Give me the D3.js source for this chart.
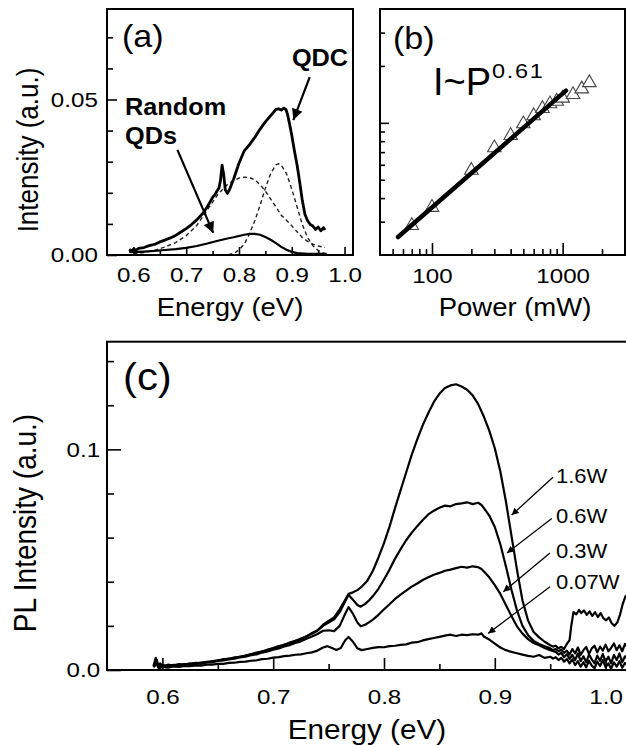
<!DOCTYPE html>
<html>
<head>
<meta charset="utf-8">
<script src="https://cdn.jsdelivr.net/npm/d3@7"></script>
<style>
  body { margin: 0; background: #fff; }
  svg { display: block; font-family: "Liberation Sans", Arial, sans-serif; }
</style>
</head>
<body>
<div id="chart"></div>
<script>
// ---- panel (a): spectrum and its two-peak fit ----
const aTotal = [[0.592,0.0018],[0.597,0.0012],[0.60,0.0019],[0.605,0.0016],[0.61,0.0021],[0.62,0.0024],[0.63,0.0030],[0.64,0.0034],[0.65,0.0042],[0.66,0.0048],[0.67,0.0055],[0.68,0.0063],[0.69,0.0074],[0.70,0.0085],[0.71,0.0098],[0.72,0.0113],[0.73,0.0131],[0.735,0.0142],[0.74,0.0155],[0.745,0.0170],[0.75,0.0185],[0.755,0.0195],[0.758,0.0205],[0.762,0.0215],[0.765,0.0240],[0.768,0.0289],[0.771,0.0260],[0.774,0.0210],[0.778,0.0198],[0.782,0.0210],[0.79,0.0245],[0.80,0.0295],[0.81,0.0335],[0.82,0.0355],[0.83,0.0378],[0.84,0.0405],[0.85,0.0428],[0.86,0.0448],[0.865,0.0458],[0.87,0.0468],[0.875,0.0470],[0.88,0.0466],[0.885,0.0472],[0.889,0.0468],[0.892,0.0452],[0.896,0.0420],[0.90,0.0385],[0.905,0.0335],[0.91,0.0290],[0.915,0.0235],[0.92,0.0175],[0.925,0.0130],[0.93,0.0110],[0.935,0.0098],[0.94,0.0093],[0.945,0.0082],[0.95,0.0090],[0.955,0.0078],[0.96,0.0088],[0.963,0.0080]];
const aRandom = [[0.592,0.0010],[0.60,0.0009],[0.62,0.0011],[0.64,0.0013],[0.66,0.0016],[0.68,0.0019],[0.70,0.0023],[0.72,0.0029],[0.74,0.0037],[0.76,0.0046],[0.78,0.0054],[0.79,0.0057],[0.80,0.0061],[0.81,0.0065],[0.82,0.0068],[0.83,0.0068],[0.84,0.0065],[0.85,0.0058],[0.86,0.0049],[0.87,0.0038],[0.88,0.0026],[0.89,0.0017],[0.90,0.0010],[0.91,0.0006],[0.93,0.0004],[0.966,0.0004]];
const aFitBroad = [[0.60,0.0003],[0.62,0.0008],[0.64,0.0015],[0.66,0.0026],[0.68,0.0040],[0.70,0.0062],[0.72,0.0095],[0.74,0.0145],[0.76,0.0195],[0.78,0.0230],[0.80,0.0247],[0.81,0.0250],[0.82,0.0249],[0.83,0.0242],[0.84,0.0226],[0.85,0.0206],[0.86,0.0180],[0.87,0.0155],[0.88,0.0128],[0.89,0.0112],[0.90,0.0094],[0.91,0.0075],[0.92,0.0056],[0.93,0.0044],[0.94,0.0035],[0.95,0.0029],[0.963,0.0024]];
const aFitNarrow = [[0.78,0.0001],[0.79,0.0005],[0.80,0.0016],[0.81,0.0035],[0.82,0.0068],[0.83,0.0110],[0.84,0.0160],[0.85,0.0215],[0.86,0.0262],[0.87,0.0290],[0.875,0.0293],[0.88,0.0289],[0.89,0.0262],[0.90,0.0212],[0.91,0.0155],[0.92,0.0098],[0.93,0.0056],[0.94,0.0030],[0.95,0.0015],[0.96,0.0006],[0.97,0.0002]];
const aTicksX = [0.6, 0.7, 0.8, 0.9, 1.0], aMinorX = [0.65, 0.75, 0.85, 0.95];
const aTicksY = [0, 0.05], aMinorY = [0.01, 0.02, 0.03, 0.04, 0.06, 0.07];

// ---- panel (b): integrated intensity vs power ----
const bPower = [70, 100, 200, 300, 400, 500, 600, 700, 800, 900, 1000, 1200, 1400, 1600];
const bIntensity = [2.86, 3.57, 5.61, 7.37, 8.57, 9.88, 10.9, 11.9, 12.6, 13.0, 13.5, 14.1, 15.1, 16.3];
const bFitPower = [55, 1060], bFitIntensity = [2.49, 14.8];
const bTicksX = [100, 1000], bMinorX = [50, 60, 70, 80, 90, 200, 300, 400, 500, 600, 700, 800, 900, 2000];
const bTicksY = [10], bMinorY = [3, 4, 5, 6, 7, 8, 9, 20, 30];

// ---- panel (c): spectra at four pump powers ----
const c16 = [[0.592,0.0020],[0.594,0.0055],[0.596,0.0012],[0.598,0.0030],[0.60,0.0018],[0.605,0.0024],[0.61,0.0020],[0.615,0.0027],[0.62,0.0025],[0.625,0.0030],[0.63,0.0029],[0.635,0.0034],[0.64,0.0036],[0.645,0.0040],[0.65,0.0043],[0.655,0.0049],[0.66,0.0050],[0.665,0.0057],[0.67,0.0059],[0.675,0.0066],[0.68,0.0070],[0.685,0.0079],[0.69,0.0083],[0.695,0.0093],[0.70,0.0100],[0.705,0.0108],[0.71,0.0113],[0.715,0.0125],[0.72,0.0131],[0.725,0.0143],[0.73,0.0152],[0.735,0.0168],[0.74,0.0180],[0.745,0.0205],[0.75,0.0222],[0.755,0.0238],[0.76,0.0275],[0.765,0.0318],[0.768,0.0345],[0.772,0.0352],[0.776,0.0362],[0.78,0.0378],[0.785,0.0405],[0.79,0.0450],[0.795,0.0510],[0.80,0.0575],[0.805,0.0650],[0.81,0.0735],[0.815,0.0815],[0.82,0.0895],[0.825,0.0975],[0.83,0.1045],[0.835,0.1110],[0.84,0.1165],[0.845,0.1215],[0.85,0.1252],[0.855,0.1278],[0.86,0.1290],[0.865,0.1295],[0.87,0.1285],[0.875,0.1270],[0.88,0.1245],[0.885,0.1205],[0.89,0.1150],[0.895,0.1085],[0.90,0.1005],[0.905,0.0900],[0.91,0.0765],[0.915,0.0610],[0.92,0.0455],[0.925,0.0315],[0.93,0.0225],[0.935,0.0172],[0.94,0.0148],[0.945,0.0128],[0.95,0.0112],[0.9525,0.0106],[0.955,0.0110],[0.9575,0.0098],[0.96,0.0105],[0.9625,0.0095],[0.965,0.0118],[0.9675,0.0135],[0.969,0.0200],[0.971,0.0262],[0.9735,0.0252],[0.976,0.0272],[0.978,0.0258],[0.9805,0.0270],[0.983,0.0250],[0.9855,0.0266],[0.988,0.0245],[0.9905,0.0262],[0.993,0.0240],[0.9955,0.0258],[0.998,0.0235],[1.0005,0.0225],[1.003,0.0238],[1.0055,0.0212],[1.008,0.0200],[1.0105,0.0215],[1.013,0.0250],[1.0155,0.0300],[1.018,0.0335],[1.02,0.0325]];
const c06 = [[0.592,0.0018],[0.595,0.0045],[0.597,0.0010],[0.60,0.0022],[0.605,0.0017],[0.61,0.0023],[0.615,0.0022],[0.62,0.0027],[0.625,0.0026],[0.63,0.0032],[0.635,0.0031],[0.64,0.0037],[0.645,0.0038],[0.65,0.0044],[0.655,0.0046],[0.66,0.0052],[0.665,0.0054],[0.67,0.0061],[0.675,0.0064],[0.68,0.0072],[0.685,0.0076],[0.69,0.0085],[0.695,0.0089],[0.70,0.0098],[0.705,0.0104],[0.71,0.0115],[0.715,0.0121],[0.72,0.0132],[0.725,0.0139],[0.73,0.0153],[0.735,0.0164],[0.74,0.0178],[0.745,0.0200],[0.75,0.0215],[0.755,0.0230],[0.76,0.0262],[0.765,0.0312],[0.768,0.0340],[0.772,0.0318],[0.776,0.0295],[0.779,0.0287],[0.783,0.0300],[0.787,0.0318],[0.79,0.0335],[0.795,0.0368],[0.80,0.0410],[0.805,0.0455],[0.81,0.0505],[0.815,0.0548],[0.82,0.0588],[0.825,0.0622],[0.83,0.0652],[0.835,0.0680],[0.84,0.0705],[0.845,0.0722],[0.85,0.0735],[0.855,0.0745],[0.86,0.0742],[0.865,0.0752],[0.87,0.0755],[0.875,0.0760],[0.88,0.0752],[0.885,0.0758],[0.888,0.0748],[0.89,0.0735],[0.895,0.0700],[0.90,0.0648],[0.905,0.0570],[0.91,0.0470],[0.915,0.0365],[0.92,0.0270],[0.925,0.0200],[0.93,0.0158],[0.935,0.0132],[0.94,0.0118],[0.945,0.0108],[0.95,0.0098],[0.9525,0.0090],[0.955,0.0095],[0.9575,0.0085],[0.96,0.0092],[0.9625,0.0078],[0.965,0.0088],[0.9675,0.0070],[0.97,0.0095],[0.9725,0.0075],[0.975,0.0102],[0.9775,0.0068],[0.98,0.0090],[0.9825,0.0105],[0.985,0.0072],[0.9875,0.0098],[0.99,0.0110],[0.9925,0.0080],[0.995,0.0106],[0.9975,0.0088],[1.00,0.0115],[1.0025,0.0085],[1.005,0.0100],[1.0075,0.0120],[1.01,0.0090],[1.0125,0.0112],[1.015,0.0085],[1.0175,0.0118],[1.02,0.0100]];
const c03 = [[0.592,0.0015],[0.594,0.0040],[0.597,0.0012],[0.60,0.0019],[0.605,0.0015],[0.61,0.0021],[0.615,0.0019],[0.62,0.0025],[0.625,0.0024],[0.63,0.0029],[0.635,0.0029],[0.64,0.0034],[0.645,0.0035],[0.65,0.0041],[0.655,0.0043],[0.66,0.0048],[0.665,0.0051],[0.67,0.0057],[0.675,0.0060],[0.68,0.0067],[0.685,0.0071],[0.69,0.0079],[0.695,0.0084],[0.70,0.0092],[0.705,0.0098],[0.71,0.0107],[0.715,0.0113],[0.72,0.0123],[0.725,0.0130],[0.73,0.0142],[0.735,0.0152],[0.74,0.0163],[0.745,0.0178],[0.75,0.0180],[0.755,0.0176],[0.76,0.0200],[0.765,0.0255],[0.768,0.0285],[0.772,0.0255],[0.776,0.0215],[0.779,0.0198],[0.783,0.0205],[0.787,0.0218],[0.79,0.0228],[0.795,0.0250],[0.80,0.0275],[0.805,0.0298],[0.81,0.0322],[0.815,0.0342],[0.82,0.0360],[0.825,0.0378],[0.83,0.0392],[0.835,0.0408],[0.84,0.0420],[0.845,0.0432],[0.85,0.0440],[0.855,0.0450],[0.86,0.0455],[0.865,0.0462],[0.87,0.0468],[0.875,0.0464],[0.88,0.0470],[0.885,0.0466],[0.888,0.0458],[0.89,0.0448],[0.895,0.0420],[0.90,0.0385],[0.905,0.0345],[0.91,0.0295],[0.915,0.0245],[0.92,0.0198],[0.925,0.0165],[0.93,0.0140],[0.935,0.0122],[0.94,0.0112],[0.945,0.0100],[0.95,0.0090],[0.955,0.0082],[0.9575,0.0070],[0.96,0.0078],[0.9625,0.0058],[0.965,0.0072],[0.9675,0.0050],[0.97,0.0068],[0.9725,0.0045],[0.975,0.0075],[0.9775,0.0040],[0.98,0.0062],[0.9825,0.0035],[0.985,0.0070],[0.9875,0.0048],[0.99,0.0030],[0.9925,0.0065],[0.995,0.0042],[0.9975,0.0072],[1.00,0.0038],[1.0025,0.0060],[1.005,0.0030],[1.0075,0.0068],[1.01,0.0045],[1.0125,0.0075],[1.015,0.0035],[1.0175,0.0062],[1.02,0.0048]];
const c007 = [[0.592,0.0012],[0.595,0.0030],[0.597,0.0008],[0.60,0.0014],[0.605,0.0011],[0.61,0.0016],[0.615,0.0014],[0.62,0.0018],[0.625,0.0017],[0.63,0.0021],[0.635,0.0020],[0.64,0.0024],[0.645,0.0024],[0.65,0.0028],[0.655,0.0028],[0.66,0.0032],[0.665,0.0033],[0.67,0.0037],[0.675,0.0038],[0.68,0.0042],[0.685,0.0044],[0.69,0.0049],[0.695,0.0051],[0.70,0.0056],[0.705,0.0058],[0.71,0.0063],[0.715,0.0065],[0.72,0.0069],[0.725,0.0071],[0.73,0.0076],[0.735,0.0080],[0.74,0.0088],[0.745,0.0102],[0.749,0.0108],[0.753,0.0100],[0.757,0.0091],[0.761,0.0100],[0.765,0.0135],[0.768,0.0150],[0.772,0.0128],[0.776,0.0098],[0.78,0.0090],[0.785,0.0095],[0.79,0.0100],[0.795,0.0104],[0.80,0.0103],[0.805,0.0108],[0.81,0.0110],[0.815,0.0114],[0.82,0.0116],[0.825,0.0124],[0.83,0.0126],[0.835,0.0134],[0.84,0.0140],[0.845,0.0145],[0.85,0.0150],[0.855,0.0156],[0.86,0.0160],[0.865,0.0154],[0.87,0.0160],[0.875,0.0158],[0.88,0.0162],[0.885,0.0160],[0.888,0.0166],[0.89,0.0152],[0.895,0.0138],[0.90,0.0120],[0.905,0.0102],[0.91,0.0090],[0.915,0.0082],[0.92,0.0076],[0.925,0.0070],[0.93,0.0064],[0.935,0.0060],[0.94,0.0068],[0.945,0.0055],[0.95,0.0060],[0.9525,0.0052],[0.955,0.0058],[0.9575,0.0045],[0.96,0.0055],[0.9625,0.0038],[0.965,0.0050],[0.9675,0.0030],[0.97,0.0048],[0.9725,0.0022],[0.975,0.0040],[0.9775,0.0015],[0.98,0.0035],[0.9825,0.0012],[0.985,0.0042],[0.9875,0.0020],[0.99,0.0008],[0.9925,0.0038],[0.995,0.0018],[0.9975,0.0045],[1.00,0.0012],[1.0025,0.0030],[1.005,0.0006],[1.0075,0.0035],[1.01,0.0015],[1.0125,0.0040],[1.015,0.0010],[1.0175,0.0032],[1.02,0.0020]];
const cLabels = ['1.6W', '0.6W', '0.3W', '0.07W'];
const cTicksX = [0.6, 0.7, 0.8, 0.9, 1.0], cMinorX = [0.65, 0.75, 0.85, 0.95];
const cTicksY = [0, 0.1], cMinorY = [0.02, 0.04, 0.06, 0.08, 0.12, 0.14];

const width = 626, height = 745,
   SX = 1.1,      // horizontal stretch of the source figure's lettering
   tickSX = 1.15;

const svg = d3.select('#chart')
   .append('svg')
   .attr('width', width)
   .attr('height', height);

const defs = svg.append('defs');
const addHead = (id, w, h) => defs.append('marker')
   .attr('id', id)
   .attr('markerUnits', 'userSpaceOnUse')
   .attr('viewBox', '0 0 10 10')
   .attr('markerWidth', w)
   .attr('markerHeight', h)
   .attr('refX', 10)
   .attr('refY', 5)
   .attr('orient', 'auto')
   .append('path')
   .attr('d', 'M0,0 L10,5 L0,10 z')
   .attr('fill', '#000');
addHead('headBig', 13, 11);
addHead('headSmall', 10, 7);

// major (labelled) and minor ticks, all pointing into the frame
function drawAxis(axisFn, scale, pos, major, minor, fmt, bigLen, smallLen, pad, fontSize) {
   const g = svg.append('g').attr('transform', pos);
   g.append('g').call(axisFn(scale).tickValues(minor).tickFormat('').tickSize(-smallLen));
   g.append('g').call(axisFn(scale).tickValues(major).tickFormat(fmt).tickSize(-bigLen).tickPadding(pad));
   g.selectAll('.domain').remove();
   g.selectAll('line').attr('stroke', '#000').attr('stroke-width', 1.6);
   g.selectAll('text').attr('font-size', fontSize).attr('fill', '#000')
      .attr('font-family', '"Liberation Sans", Arial, sans-serif')
      .attr('transform', `scale(${tickSX},1)`);
   return g;
}

function frame(x0, y0, x1, y1) {
   svg.append('rect')
      .attr('x', x0).attr('y', y0)
      .attr('width', x1 - x0).attr('height', y1 - y0)
      .attr('fill', 'none').attr('stroke', '#000').attr('stroke-width', 2);
}

function text(x, y, str, size, opts = {}) {
   return svg.append('text')
      .attr('transform', `translate(${x},${y}) scale(${opts.sx || SX},1)`)
      .attr('font-size', size)
      .attr('font-weight', opts.weight || 'normal')
      .attr('text-anchor', opts.anchor || 'start')
      .attr('fill', '#000')
      .text(str);
}

function vtext(x, y, str, size) {
   return svg.append('text')
      .attr('transform', `translate(${x},${y}) rotate(-90) scale(1,${SX})`)
      .attr('font-size', size)
      .attr('text-anchor', 'middle')
      .attr('fill', '#000')
      .text(str);
}

// ================= panel (a) =================
const xA = d3.scaleLinear().domain([0.55, 1.016]).range([107, 353]);
const yA = d3.scaleLinear().domain([0, 0.0791]).range([255, 9]);
const lineA = d3.line().x(d => xA(d[0])).y(d => yA(d[1]));

svg.append('path').datum(aFitBroad).attr('d', lineA)
   .attr('fill', 'none').attr('stroke', '#222').attr('stroke-width', 1.4).attr('stroke-dasharray', '4,3');
svg.append('path').datum(aFitNarrow).attr('d', lineA)
   .attr('fill', 'none').attr('stroke', '#222').attr('stroke-width', 1.4).attr('stroke-dasharray', '4,3');
svg.append('path').datum(aRandom).attr('d', lineA)
   .attr('fill', 'none').attr('stroke', '#000').attr('stroke-width', 2.2);
svg.append('path').datum(aTotal).attr('d', lineA)
   .attr('fill', 'none').attr('stroke', '#000').attr('stroke-width', 2.8).attr('stroke-linejoin', 'round');

drawAxis(d3.axisBottom, xA, 'translate(0,255)', aTicksX, aMinorX, d3.format('.1f'), 8, 4, 12, 21);
drawAxis(d3.axisLeft, yA, 'translate(107,0)', aTicksY, aMinorY, d3.format('.2f'), 10, 6, 8, 21);
frame(107, 9, 353, 255);

text(122, 47, '(a)', 31);
text(320, 66, 'QDC', 23, {weight: 'bold', anchor: 'middle'});
text(125, 115, 'Random', 23, {weight: 'bold'});
text(125, 144, 'QDs', 23, {weight: 'bold'});
svg.append('line')
   .attr('x1', xA(0.934)).attr('y1', yA(0.0572)).attr('x2', xA(0.903)).attr('y2', yA(0.0434))
   .attr('stroke', '#000').attr('stroke-width', 2.2).attr('marker-end', 'url(#headBig)');
svg.append('line')
   .attr('x1', xA(0.6834)).attr('y1', yA(0.0338)).attr('x2', xA(0.7512)).attr('y2', yA(0.0071))
   .attr('stroke', '#000').attr('stroke-width', 2.2).attr('marker-end', 'url(#headBig)');
text(230, 316, 'Energy (eV)', 25, {anchor: 'middle'});
vtext(38, 150, 'Intensity (a.u.)', 26);

// ================= panel (b) =================
const xB = d3.scaleLog().domain([40, 3000]).range([380, 625]);
const yB = d3.scaleLog().domain([2, 40]).range([255, 9]);

svg.append('g').selectAll('path')
   .data(bPower)
   .join('path')
   .attr('transform', (d, i) => `translate(${xB(d)},${yB(bIntensity[i])})`)
   .attr('d', d3.symbol(d3.symbolTriangle, 80))
   .attr('fill', '#fff')
   .attr('stroke', '#444')
   .attr('stroke-width', 1.1);

svg.append('line')
   .attr('x1', xB(bFitPower[0])).attr('y1', yB(bFitIntensity[0]))
   .attr('x2', xB(bFitPower[1])).attr('y2', yB(bFitIntensity[1]))
   .attr('stroke', '#000').attr('stroke-width', 4.5).attr('stroke-linecap', 'round');

drawAxis(d3.axisBottom, xB, 'translate(0,255)', bTicksX, bMinorX, d3.format('d'), 12, 6, 13, 21);
drawAxis(d3.axisLeft, yB, 'translate(380,0)', bTicksY, bMinorY, () => '', 9, 5, 9, 21);
frame(380, 9, 625, 255);

text(393, 49, '(b)', 31);
text(433, 95, 'I~P', 38, {sx: 1});
text(492, 78, '0.61', 21, {sx: 1.12}).attr('letter-spacing', 1.5);
text(515, 316, 'Power (mW)', 25, {anchor: 'middle'});

// ================= panel (c) =================
const xC = d3.scaleLinear().domain([0.55, 1.05]).range([107, 661]);
const yC = d3.scaleLinear().domain([0, 0.1488]).range([670, 341.7]);
const lineC = d3.line().x(d => xC(d[0])).y(d => yC(d[1]));

defs.append('clipPath').attr('id', 'clipC')
   .append('rect').attr('x', 107).attr('y', 341.7).attr('width', 554).attr('height', 328.3);

svg.append('g').attr('clip-path', 'url(#clipC)')
   .selectAll('path')
   .data([c007, c03, c06, c16])
   .join('path')
   .attr('d', lineC)
   .attr('fill', 'none')
   .attr('stroke', '#000')
   .attr('stroke-width', 2.2)
   .attr('stroke-linejoin', 'round');

drawAxis(d3.axisBottom, xC, 'translate(0,670)', cTicksX, cMinorX, d3.format('.1f'), 12, 6, 19, 21);
drawAxis(d3.axisLeft, yC, 'translate(107,0)', cTicksY, cMinorY, d3.format('.1f'), 14, 7, 6, 21);
frame(107, 341.7, 661, 670);

text(123, 390, '(c)', 38);

// label positions and arrow ends in data units
const cLabelAt = [[0.9552, 0.0847], [0.9552, 0.0666], [0.9552, 0.0507], [0.9552, 0.0367]];
const cArrowFrom = [[0.9525, 0.0874], [0.9514, 0.0687], [0.9498, 0.0530], [0.9498, 0.0377]];
const cArrowTo = [[0.9152, 0.0702], [0.9110, 0.0530], [0.9077, 0.0355], [0.8941, 0.0166]];

cLabels.forEach((lab, i) => {
   text(xC(cLabelAt[i][0]), yC(cLabelAt[i][1]), lab, 20);
   svg.append('line')
      .attr('x1', xC(cArrowFrom[i][0])).attr('y1', yC(cArrowFrom[i][1]))
      .attr('x2', xC(cArrowTo[i][0])).attr('y2', yC(cArrowTo[i][1]))
      .attr('stroke', '#000').attr('stroke-width', 1.3).attr('marker-end', 'url(#headSmall)');
});

text(367, 739, 'Energy (eV)', 27, {anchor: 'middle'});
vtext(36, 523, 'PL Intensity (a.u.)', 28);
</script>
</body>
</html>
